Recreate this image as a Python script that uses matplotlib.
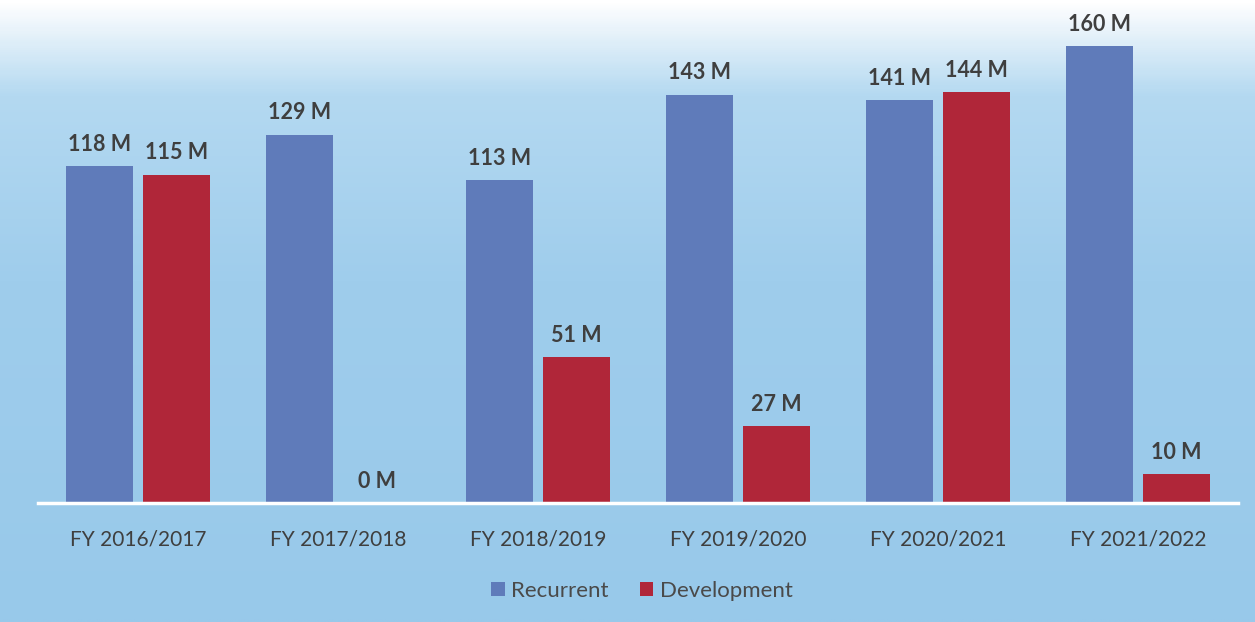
import matplotlib.pyplot as plt
import numpy as np
from matplotlib.colors import LinearSegmentedColormap

plt.rcParams["font.family"] = ["Lato", "DejaVu Sans"]

years = ["FY 2016/2017", "FY 2017/2018", "FY 2018/2019",
         "FY 2019/2020", "FY 2020/2021", "FY 2021/2022"]
recurrent = [118, 129, 113, 143, 141, 160]
development = [115, 0, 51, 27, 144, 10]

REC_COLOR = "#5f7bba"
DEV_COLOR = "#b02639"
TEXT_COLOR = "#3f3f3f"

fig = plt.figure(figsize=(12.55, 6.22), dpi=100)

# soft blue backdrop, fading to white at the very top
bg = fig.add_axes([0, 0, 1, 1], zorder=0)
grad = np.linspace(0, 1, 300)[:, None] * np.ones((1, 10))
cmap = LinearSegmentedColormap.from_list(
    "bg", [(0.0, "#98c9ea"), (0.55, "#9fcdec"), (0.85, "#b4d9f1"), (0.95, "#e6f2fa"), (1.0, "#ffffff")]
)
bg.imshow(grad, aspect="auto", cmap=cmap, origin="lower", extent=[0, 1, 0, 1])
bg.set_axis_off()

ax = fig.add_axes([38 / 1255, (622 - 503) / 622, 1200 / 1255, 500 / 622], zorder=1)
ax.patch.set_alpha(0)

x = np.arange(len(years))
w = 0.335
off = 0.193
b1 = ax.bar(x - off, recurrent, w, color=REC_COLOR, label="Recurrent")
b2 = ax.bar(x + off, development, w, color=DEV_COLOR, label="Development")

for bars, vals in ((b1, recurrent), (b2, development)):
    for rect, v in zip(bars, vals):
        ax.annotate(f"{v} M", (rect.get_x() + rect.get_width() / 2, v),
                    xytext=(0, 8), textcoords="offset points",
                    ha="center", va="bottom", fontsize=15.5, fontweight="bold",
                    color=TEXT_COLOR)

ax.set_xlim(-0.5, len(years) - 0.5)
ax.set_ylim(0, 500 / (457 / 160))
ax.set_yticks([])
ax.set_xticks(x)
ax.set_xticklabels(years, fontsize=15, color=TEXT_COLOR)
ax.tick_params(axis="x", length=0, pad=19)
for side in ("top", "right", "left"):
    ax.spines[side].set_visible(False)
ax.spines["bottom"].set_color("white")
ax.spines["bottom"].set_linewidth(2.5)

leg = fig.legend(handles=[b1, b2], loc="center", bbox_to_anchor=(642 / 1255, 1 - 591 / 622),
                 ncol=2, frameon=False, fontsize=16, handlelength=0.6, handleheight=0.6,
                 handletextpad=0.3, columnspacing=1.4)
for t in leg.get_texts():
    t.set_color("#4a4a4a")

fig.savefig("out.png", dpi=100)
